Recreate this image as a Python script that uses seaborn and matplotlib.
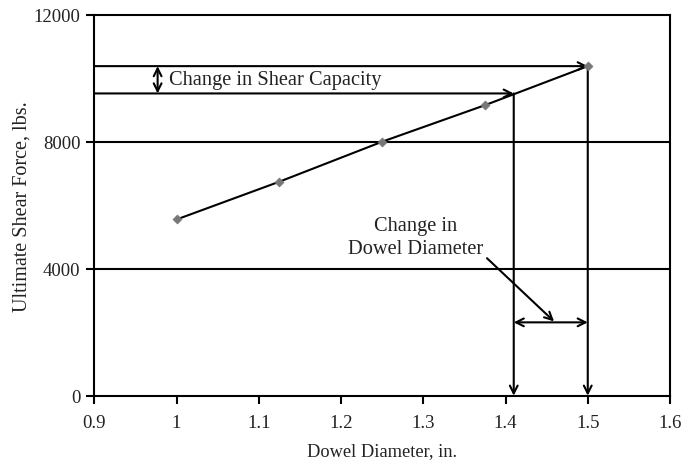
import matplotlib
matplotlib.use("Agg")
import matplotlib.pyplot as plt
import seaborn as sns
import pandas as pd

# Dowel diameter vs. ultimate shear force
diameter = [1.0, 1.125, 1.25, 1.375, 1.5]
shear_force = [5550, 6740, 8000, 9150, 10380]

x_ticks = [0.9, 1.0, 1.1, 1.2, 1.3, 1.4, 1.5, 1.6]
x_tick_labels = ["0.9", "1", "1.1", "1.2", "1.3", "1.4", "1.5", "1.6"]
y_ticks = [0, 4000, 8000, 12000]

# Reference readings used for the annotation
d_low, d_high = 1.41, 1.5
v_low, v_high = 9520, 10380
shear_arrow_x = 0.977
diam_arrow_y = 2310

df = pd.DataFrame({"diameter": diameter, "force": shear_force})

sns.set_theme(style="white")
plt.rcParams["font.family"] = ["Liberation Serif", "DejaVu Serif"]

fig = plt.figure(figsize=(6.82, 4.64), dpi=100)
ax = fig.add_axes([94.3 / 682, 1 - 396.7 / 464, (670 - 94.3) / 682, (396.7 - 15.7) / 464])

# horizontal gridlines
for yv in [4000, 8000]:
    ax.axhline(yv, color="black", lw=1.5, zorder=1)

sns.lineplot(data=df, x="diameter", y="force", ax=ax, color="black", lw=1.5, zorder=3)
sns.scatterplot(data=df, x="diameter", y="force", ax=ax, marker="D", s=22,
                color="#777777", edgecolor="#777777", zorder=4)

arrow_kw = dict(arrowstyle="->", color="black", lw=1.5, mutation_scale=14, shrinkA=0, shrinkB=0)
both_kw = dict(arrowstyle="<->", color="black", lw=1.5, mutation_scale=14, shrinkA=0, shrinkB=0)

# horizontal leaders to the curve
ax.annotate("", xy=(d_high, v_high), xytext=(0.9, v_high), arrowprops=arrow_kw)
ax.annotate("", xy=(d_low, v_low), xytext=(0.9, v_low), arrowprops=arrow_kw)
# vertical drops to the axis
ax.annotate("", xy=(d_high, 0), xytext=(d_high, v_high), arrowprops=arrow_kw)
ax.annotate("", xy=(d_low, 0), xytext=(d_low, v_low), arrowprops=arrow_kw)

# change in shear capacity
ax.annotate("", xy=(shear_arrow_x, v_high), xytext=(shear_arrow_x, v_low), arrowprops=both_kw)
ax.text(0.991, (v_high + v_low) / 2, "Change in Shear Capacity", fontsize=14.7,
        va="center", ha="left", color="#222222")

# change in dowel diameter
ax.annotate("", xy=(d_low, diam_arrow_y), xytext=(d_high, diam_arrow_y), arrowprops=both_kw)
ax.annotate("", xy=(1.4590, 2340), xytext=(1.3775, 4330), arrowprops=arrow_kw)
ax.text(1.291, 5000, "Change in\nDowel Diameter", fontsize=14.7, ha="center", va="center",
        color="#222222", linespacing=1.25)

ax.set_xlim(0.9, 1.6)
ax.set_ylim(0, 12000)
ax.set_xticks(x_ticks)
ax.set_xticklabels(x_tick_labels)
ax.set_yticks(y_ticks)
ax.tick_params(axis="both", direction="out", length=6, width=1.5, color="black",
               labelsize=13.5, labelcolor="#222222", bottom=True, left=True)
ax.tick_params(axis="x", pad=7)
ax.tick_params(axis="y", pad=4)
for sp in ax.spines.values():
    sp.set_color("black")
    sp.set_linewidth(1.5)

ax.set_xlabel("Dowel Diameter, in.", fontsize=13.2, color="#222222", labelpad=8)
ax.set_ylabel("Ultimate Shear Force, lbs.", fontsize=14.5, color="#222222", labelpad=1.5)

fig.savefig("out.png", dpi=100)
